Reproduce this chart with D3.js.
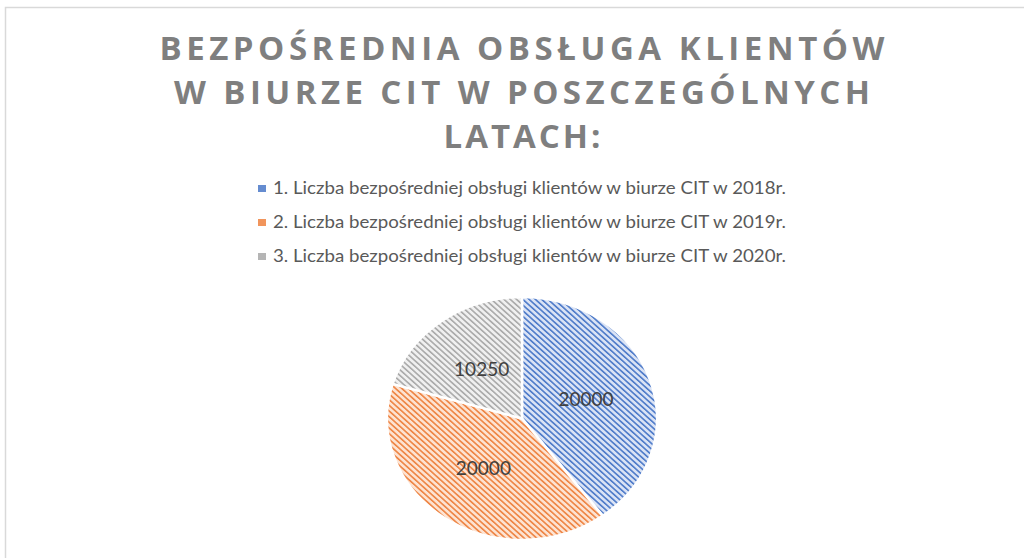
<!DOCTYPE html>
<html>
<head>
<meta charset="utf-8">
<script src="https://cdn.jsdelivr.net/npm/d3@7"></script>
<style>
html,body{margin:0;padding:0;background:#fff;overflow:hidden;}
svg{display:block;}
</style>
</head>
<body>
<svg id="chart" width="1024" height="558"></svg>
<script>
const titleLines = ["BEZPOŚREDNIA OBSŁUGA KLIENTÓW", "W BIURZE CIT W POSZCZEGÓLNYCH", "LATACH:"];
const categories = [
  "1. Liczba bezpośredniej obsługi klientów w biurze CIT w 2018r.",
  "2. Liczba bezpośredniej obsługi klientów w biurze CIT w 2019r.",
  "3. Liczba bezpośredniej obsługi klientów w biurze CIT w 2020r."
];
const values = [20000, 20000, 10250];
const lineColors = ["#4a78c8", "#ee8240", "#a8a8a8"];
const bgColors = ["#dae3f5", "#fde3d2", "#f0f0f0"];

const svg = d3.select("#chart");
const defs = svg.append("defs");
categories.forEach((c, i) => {
  const p = defs.append("pattern")
    .attr("id", "pat" + i)
    .attr("patternUnits", "userSpaceOnUse")
    .attr("width", 4).attr("height", 4)
    .attr("patternTransform", "rotate(-45)");
  p.append("rect").attr("width", 4).attr("height", 4).attr("fill", bgColors[i]);
  p.append("rect").attr("x", 0).attr("y", 0).attr("width", 1.5).attr("height", 4).attr("fill", lineColors[i]);
});

// chart area border
svg.append("rect").attr("x", 5.5).attr("y", 7.5).attr("width", 1100).attr("height", 700)
  .attr("fill", "none").attr("stroke", "#d9d9d9").attr("stroke-width", 1.5);

// title
const titleW = [725, 696, 157];
const titleY = [60, 104, 148];
svg.append("g").selectAll("text").data(titleLines).join("text")
  .attr("x", 522).attr("y", (d, i) => titleY[i])
  .attr("text-anchor", "middle")
  .attr("font-family", "'Open Sans', sans-serif")
  .attr("font-weight", "bold")
  .attr("font-size", 33)
  .attr("fill", "#7f7f7f")
  .attr("textLength", (d, i) => titleW[i])
  .attr("lengthAdjust", "spacing")
  .text(d => d);

// legend
const legY = [194, 228, 262];
const leg = svg.append("g").selectAll("g").data(categories).join("g")
  .attr("transform", (d, i) => `translate(258,${legY[i]})`);
leg.append("rect").attr("x", 0).attr("y", -9).attr("width", 8).attr("height", 7)
  .attr("fill", (d, i) => lineColors[i]).attr("opacity", 0.85);
leg.append("text").attr("x", 15).attr("y", 0)
  .attr("font-family", "Lato, 'Open Sans', sans-serif")
  .attr("font-size", 16.5)
  .attr("fill", "#595959")
  .attr("textLength", 513)
  .attr("lengthAdjust", "spacingAndGlyphs")
  .text(d => d);

// pie (elliptical, as in reference)
const cx = 522, cy = 418.5, rx = 135, ry = 121.5;
const pie = d3.pie().sort(null).value(d => d)(values);
const arc = d3.arc().innerRadius(0).outerRadius(ry);
const labelArc = d3.arc().innerRadius(ry * 0.5).outerRadius(ry * 0.5);
const g = svg.append("g").attr("transform", `translate(${cx},${cy}) scale(${rx / ry},1)`);
g.selectAll("path").data(pie).join("path")
  .attr("d", arc)
  .attr("fill", (d, i) => `url(#pat${i})`)
  .attr("stroke", "#fff")
  .attr("stroke-width", 2.5)
  .attr("vector-effect", "non-scaling-stroke")
  .attr("stroke-linejoin", "round");

const lg = svg.append("g").attr("transform", `translate(${cx},${cy})`);
lg.selectAll("text").data(pie).join("text")
  .attr("x", d => labelArc.centroid(d)[0] * rx / ry)
  .attr("y", d => labelArc.centroid(d)[1])
  .attr("dy", "0.35em")
  .attr("text-anchor", "middle")
  .attr("font-family", "Lato, 'Open Sans', sans-serif")
  .attr("font-size", 19)
  .attr("fill", "#404040")
  .text(d => d.data);
</script>
</body>
</html>
